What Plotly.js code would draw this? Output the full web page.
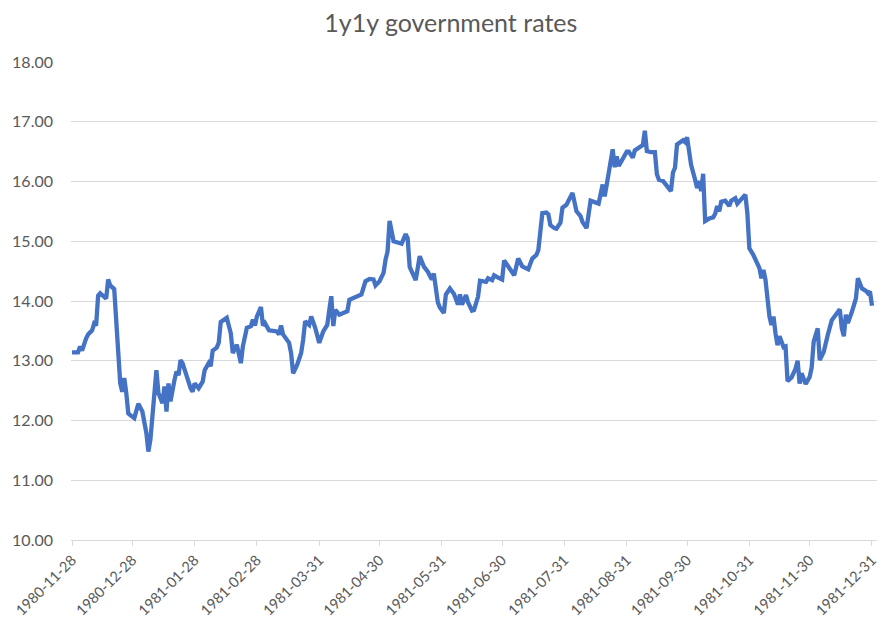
<!DOCTYPE html>
<html>
<head>
<meta charset="utf-8">
<script src="https://cdn.plot.ly/plotly-3.0.1.min.js"></script>
<style>html,body{margin:0;padding:0;background:#fff;}#chart{width:891px;height:628px;}</style>
</head>
<body>
<div id="chart"></div>
<script>
const dates = [
"1980-11-28","1980-12-01","1980-12-02","1980-12-03","1980-12-05","1980-12-06","1980-12-08","1980-12-09","1980-12-10","1980-12-11",
"1980-12-12","1980-12-15","1980-12-16","1980-12-17","1980-12-19","1980-12-20","1980-12-21","1980-12-22","1980-12-23","1980-12-24",
"1980-12-25","1980-12-26","1980-12-27","1980-12-29","1980-12-31","1981-01-02","1981-01-04","1981-01-05","1981-01-06","1981-01-07",
"1981-01-09","1981-01-10","1981-01-12","1981-01-13","1981-01-14","1981-01-15","1981-01-16","1981-01-18","1981-01-19","1981-01-20",
"1981-01-21","1981-01-22","1981-01-24","1981-01-26","1981-01-27","1981-01-28","1981-01-30","1981-02-01","1981-02-02","1981-02-04",
"1981-02-05","1981-02-06","1981-02-08","1981-02-09","1981-02-10","1981-02-13","1981-02-15","1981-02-16","1981-02-18","1981-02-20",
"1981-02-21","1981-02-23","1981-02-25","1981-02-26","1981-02-27","1981-02-28","1981-03-02","1981-03-03","1981-03-04","1981-03-06",
"1981-03-08","1981-03-10","1981-03-11","1981-03-12","1981-03-13","1981-03-15","1981-03-16","1981-03-17","1981-03-18","1981-03-20",
"1981-03-22","1981-03-23","1981-03-24","1981-03-26","1981-03-27","1981-03-29","1981-03-31","1981-04-02","1981-04-04","1981-04-05",
"1981-04-06","1981-04-07","1981-04-08","1981-04-10","1981-04-12","1981-04-14","1981-04-15","1981-04-17","1981-04-20","1981-04-21",
"1981-04-23","1981-04-25","1981-04-27","1981-04-28","1981-04-30","1981-05-02","1981-05-03","1981-05-04","1981-05-05","1981-05-06",
"1981-05-07","1981-05-09","1981-05-11","1981-05-13","1981-05-14","1981-05-15","1981-05-17","1981-05-18","1981-05-20","1981-05-22",
"1981-05-24","1981-05-26","1981-05-27","1981-05-29","1981-05-30","1981-06-01","1981-06-02","1981-06-04","1981-06-06","1981-06-08",
"1981-06-09","1981-06-10","1981-06-12","1981-06-13","1981-06-15","1981-06-16","1981-06-18","1981-06-19","1981-06-22","1981-06-23",
"1981-06-25","1981-06-26","1981-06-28","1981-06-30","1981-07-01","1981-07-03","1981-07-06","1981-07-08","1981-07-10","1981-07-13",
"1981-07-15","1981-07-17","1981-07-18","1981-07-20","1981-07-22","1981-07-23","1981-07-24","1981-07-26","1981-07-27","1981-07-29",
"1981-07-30","1981-08-01","1981-08-03","1981-08-04","1981-08-06","1981-08-08","1981-08-09","1981-08-11","1981-08-13","1981-08-15",
"1981-08-17","1981-08-19","1981-08-20","1981-08-21","1981-08-23","1981-08-24","1981-08-25","1981-08-26","1981-08-27","1981-08-29",
"1981-08-31","1981-09-01","1981-09-03","1981-09-04","1981-09-06","1981-09-08","1981-09-09","1981-09-10","1981-09-12","1981-09-14",
"1981-09-15","1981-09-16","1981-09-18","1981-09-20","1981-09-22","1981-09-23","1981-09-24","1981-09-25","1981-09-27","1981-09-28",
"1981-09-29","1981-09-30","1981-10-01","1981-10-02","1981-10-04","1981-10-05","1981-10-06","1981-10-07","1981-10-08","1981-10-09",
"1981-10-11","1981-10-13","1981-10-14","1981-10-15","1981-10-16","1981-10-17","1981-10-19","1981-10-21","1981-10-22","1981-10-24",
"1981-10-25","1981-10-27","1981-10-29","1981-10-30","1981-10-31","1981-11-02","1981-11-03","1981-11-05","1981-11-06","1981-11-07",
"1981-11-08","1981-11-09","1981-11-10","1981-11-11","1981-11-12","1981-11-13","1981-11-14","1981-11-15","1981-11-16","1981-11-17",
"1981-11-18","1981-11-19","1981-11-21","1981-11-23","1981-11-24","1981-11-25","1981-11-26","1981-11-28","1981-11-30","1981-12-01",
"1981-12-02","1981-12-04","1981-12-05","1981-12-07","1981-12-09","1981-12-11","1981-12-13","1981-12-15","1981-12-16","1981-12-17",
"1981-12-18","1981-12-19","1981-12-21","1981-12-23","1981-12-24","1981-12-26","1981-12-28","1981-12-29","1981-12-30","1981-12-31"
];
const rates = [
13.14,13.14,13.24,13.17,13.37,13.44,13.51,13.62,13.59,14.09,
14.13,14.04,14.36,14.26,14.20,13.57,13.07,12.62,12.48,12.71,
12.46,12.12,12.09,12.04,12.28,12.15,11.79,11.48,11.68,12.07,
12.84,12.46,12.29,12.57,12.15,12.62,12.32,12.68,12.82,12.76,
13.01,12.96,12.73,12.54,12.48,12.62,12.54,12.65,12.84,12.96,
12.91,13.17,13.22,13.30,13.65,13.72,13.46,13.13,13.27,12.96,
13.24,13.55,13.58,13.69,13.59,13.74,13.90,13.59,13.63,13.51,
13.50,13.49,13.44,13.59,13.44,13.36,13.30,13.13,12.79,12.93,
13.13,13.35,13.66,13.60,13.74,13.55,13.30,13.49,13.60,13.85,
14.08,13.58,13.85,13.77,13.80,13.83,14.02,14.05,14.08,14.11,
14.33,14.37,14.36,14.26,14.33,14.47,14.69,14.83,15.34,15.19,
15.00,14.98,14.96,15.12,15.05,14.57,14.43,14.35,14.75,14.58,
14.49,14.36,14.46,13.98,13.89,13.80,14.11,14.21,14.12,13.94,
14.11,13.94,14.10,13.98,13.84,13.85,14.07,14.34,14.32,14.38,
14.35,14.43,14.39,14.36,14.68,14.57,14.43,14.71,14.58,14.53,
14.71,14.77,14.85,15.47,15.48,15.45,15.27,15.22,15.21,15.31,
15.56,15.61,15.74,15.81,15.50,15.42,15.32,15.22,15.68,15.66,
15.63,15.95,15.75,15.94,16.34,16.54,16.24,16.42,16.26,16.37,
16.50,16.50,16.40,16.52,16.56,16.61,16.85,16.51,16.49,16.49,
16.12,16.03,16.01,15.92,15.84,16.15,16.23,16.62,16.66,16.69,
16.66,16.74,16.51,16.28,16.03,15.89,16.01,15.84,16.13,15.34,
15.38,15.40,15.46,15.59,15.50,15.66,15.68,15.59,15.68,15.72,
15.63,15.72,15.78,15.47,14.88,14.77,14.69,14.55,14.38,14.52,
14.36,14.02,13.74,13.60,13.74,13.46,13.26,13.41,13.32,13.23,
13.24,12.66,12.72,12.87,13.00,12.62,12.79,12.61,12.73,12.89,
13.32,13.54,13.01,13.15,13.43,13.68,13.77,13.86,13.54,13.41,
13.77,13.63,13.82,14.04,14.38,14.21,14.17,14.13,14.16,13.92
];
const tickDates = ["1980-11-28","1980-12-28","1981-01-28","1981-02-28","1981-03-31","1981-04-30","1981-05-31","1981-06-30","1981-07-31","1981-08-31","1981-09-30","1981-10-31","1981-11-30","1981-12-31"];
const yTicks = [10,11,12,13,14,15,16,17,18];
const yTickText = ["10.00","11.00","12.00","13.00","14.00","15.00","16.00","17.00","18.00"];

const font = "Lato, 'Open Sans', sans-serif";
Plotly.newPlot('chart', [{
  x: dates, y: rates, type: 'scatter', mode: 'lines',
  line: {color: '#4472C4', width: 4.3, shape: 'linear'},
  hoverinfo: 'skip'
}], {
  width: 891, height: 628,
  margin: {l: 71, r: 14, t: 62, b: 88},
  paper_bgcolor: '#fff', plot_bgcolor: '#fff',
  showlegend: false,
  title: {text: '1y1y government rates', x: 0.506, xanchor: 'center', y: 0.963, yanchor: 'middle',
          font: {family: font, size: 25, color: '#595959'}},
  xaxis: {
    type: 'date', range: ['1980-11-27 12:00', '1982-01-02 12:00'],
    tickmode: 'array', tickvals: tickDates, ticktext: tickDates,
    tickangle: -45, tickfont: {family: font, size: 14.5, color: '#595959'},
    showgrid: false, zeroline: false,
    showline: true, linecolor: '#d9d9d9', linewidth: 1,
    ticks: 'outside', ticklen: 5, tickcolor: '#d9d9d9', tickwidth: 1
  },
  yaxis: {
    range: [10, 18], tickmode: 'array', tickvals: yTicks, ticktext: yTickText,
    tickfont: {family: font, size: 16, color: '#595959'},
    showgrid: true, gridcolor: '#d9d9d9', gridwidth: 1,
    zeroline: false, showline: false, ticks: '', ticklabelstandoff: 17
  }
}, {staticPlot: true});
</script>
</body>
</html>
